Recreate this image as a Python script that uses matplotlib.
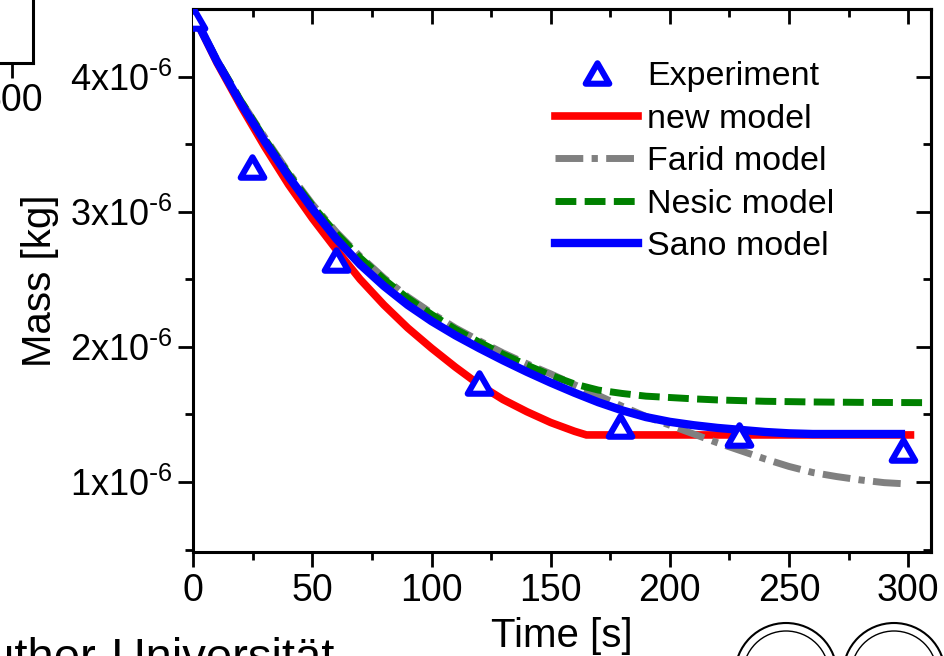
import numpy as np
import matplotlib
matplotlib.use('Agg')
import matplotlib.pyplot as plt
from matplotlib.path import Path
from matplotlib.markers import MarkerStyle
from matplotlib.patches import Circle

plt.rcParams['font.family'] = ['Liberation Sans', 'DejaVu Sans']
plt.rcParams['mathtext.default'] = 'regular'

# data (mass in 1e-6 kg)
exp_t = [0, 24.5, 60, 120, 179, 229, 298]
exp_m = [4.43, 3.33, 2.64, 1.73, 1.415, 1.35, 1.235]

new_t = [0, 10, 20, 30, 40, 50, 60, 70, 80, 90, 100, 110, 120, 130, 140, 150, 160, 165, 301]
new_m = [4.46, 4.10, 3.78, 3.48, 3.20, 2.95, 2.72, 2.50, 2.31, 2.14, 1.99, 1.85, 1.72, 1.61, 1.52,
         1.44, 1.375, 1.348, 1.348]

farid_t = [0, 10, 20, 30, 40, 50, 60, 70, 80, 90, 100, 110, 120, 130, 140, 150, 160, 170, 180, 190,
           200, 210, 220, 230, 240, 250, 260, 270, 280, 290, 300]
farid_m = [4.46, 4.12, 3.82, 3.55, 3.29, 3.055, 2.85, 2.67, 2.51, 2.37, 2.25, 2.14, 2.045, 1.955, 1.875,
           1.80, 1.72, 1.64, 1.56, 1.485, 1.42, 1.355, 1.29, 1.23, 1.17, 1.115, 1.07, 1.04, 1.015, 0.995, 0.985]

nesic_t = [0, 10, 20, 30, 40, 50, 60, 70, 80, 90, 100, 110, 120, 130, 140, 150, 160, 170, 180, 190,
           200, 210, 220, 240, 260, 280, 307]
nesic_m = [4.46, 4.12, 3.82, 3.54, 3.28, 3.045, 2.84, 2.66, 2.50, 2.36, 2.24, 2.13, 2.035, 1.945, 1.865,
           1.79, 1.725, 1.68, 1.655, 1.635, 1.625, 1.615, 1.607, 1.597, 1.592, 1.589, 1.587]

sano_t = [0, 10, 20, 30, 40, 50, 60, 70, 80, 90, 100, 110, 120, 130, 140, 150, 160, 170, 180, 190,
          200, 210, 220, 230, 240, 250, 260, 297]
sano_m = [4.46, 4.11, 3.80, 3.52, 3.26, 3.02, 2.80, 2.61, 2.45, 2.31, 2.19, 2.085, 1.99, 1.90, 1.815,
          1.735, 1.66, 1.59, 1.53, 1.48, 1.445, 1.42, 1.40, 1.385, 1.37, 1.36, 1.355, 1.355]

ytick_vals = [1, 2, 3, 4]
ytick_labels = [r'1x10$^{\text{-}6}$', r'2x10$^{\text{-}6}$', r'3x10$^{\text{-}6}$', r'4x10$^{\text{-}6}$']
xtick_vals = [0, 50, 100, 150, 200, 250, 300]

W, H = 945, 656
fig = plt.figure(figsize=(W / 100, H / 100), dpi=100)

# corner of the neighbouring chart on the slide
ax2 = fig.add_axes([-0.3, 1 - 63.3 / H, 0.3 + 33.3 / W, 0.3])
ax2.set_xlim(0, 536.6)
ax2.set_xticks([500])
ax2.set_yticks([])
ax2.tick_params(axis='x', labelsize=27, length=11, width=2, direction='out')
for s in ['bottom', 'right']:
    ax2.spines[s].set_linewidth(2.2)

ax = fig.add_axes([193.3 / W, 1 - 551.7 / H, (930.7 - 193.3) / W, (551.7 - 9) / H])

s = 1e-6
ax.plot(np.array(new_t), np.array(new_m) * s, color='#ff0000', lw=5.5, label='new model',
        solid_joinstyle='miter', zorder=2)
ax.plot(np.array(farid_t), np.array(farid_m) * s, color='#808080', lw=5, label='Farid model',
        dashes=(4, 1.2, 0.9, 1.2), zorder=3)
ax.plot(np.array(nesic_t), np.array(nesic_m) * s, color='#008000', lw=5, label='Nesic model',
        dashes=(3, 1.2), zorder=4)
ax.plot(np.array(sano_t), np.array(sano_m) * s, color='#0000ff', lw=6, label='Sano model', zorder=5)

tri = Path([(-1, -0.866), (1, -0.866), (0, 0.866), (-1, -0.866)], closed=True)
ax.plot(np.array(exp_t), np.array(exp_m) * s, ls='none',
        marker=MarkerStyle(tri, joinstyle='miter'), ms=17, mew=4.4,
        mec='#0000ff', mfc='white', label='Experiment', zorder=6)

ax.set_xlim(0, 309.5)
ax.set_ylim(0.484e-6, 4.5e-6)
ax.set_xticks(xtick_vals)
ax.set_xticks(np.arange(25, 310, 50), minor=True)
ax.set_yticks(np.array(ytick_vals) * s)
ax.set_yticklabels(ytick_labels)
ax.set_yticks(np.array([0.5, 1.5, 2.5, 3.5]) * s, minor=True)

ax.tick_params(which='major', length=11, width=2, direction='out', labelsize=27, pad=4)
ax.tick_params(axis='y', which='major', labelsize=26)
ax.tick_params(which='minor', length=6, width=2, direction='out')
for sp in ax.spines.values():
    sp.set_linewidth(2.2)

top = ax.secondary_xaxis('top')
top.set_xticks(xtick_vals)
top.set_xticks(np.arange(25, 310, 50), minor=True)
top.tick_params(which='major', direction='in', length=11, width=2, labeltop=False)
top.tick_params(which='minor', direction='in', length=6, width=2)
top.spines['top'].set_linewidth(2.2)

right = ax.secondary_yaxis('right')
right.set_yticks(np.array(ytick_vals) * s)
right.set_yticks(np.array([0.5, 1.5, 2.5, 3.5]) * s, minor=True)
right.tick_params(which='major', direction='in', length=11, width=2, labelright=False)
right.tick_params(which='minor', direction='in', length=6, width=2)
right.spines['right'].set_linewidth(2.2)

ax.set_xlabel('Time [s]', fontsize=29, labelpad=6)
ax.set_ylabel('Mass [kg]', fontsize=29, labelpad=8)

handles, labels = ax.get_legend_handles_labels()
order = [4, 0, 1, 2, 3]
ax.legend([handles[i] for i in order], [labels[i] for i in order],
          loc='upper left', bbox_to_anchor=(555 / W, 1 - 61 / H), bbox_transform=fig.transFigure,
          frameon=False, fontsize=24.5, handlelength=2.45, handletextpad=0.25,
          labelspacing=0.34, borderpad=0, borderaxespad=0)

# slide footer
fig.text(335 / W, 1 - 637 / H, 'Martin-Luther-Universität', fontsize=34, ha='right', va='top')
for cx in (786, 894):
    fig.patches.append(Circle((cx / 100, (H - 674) / 100), 0.51, transform=fig.dpi_scale_trans,
                              fill=False, lw=1.5, ec='black'))
    fig.patches.append(Circle((cx / 100, (H - 674) / 100), 0.43, transform=fig.dpi_scale_trans,
                              fill=False, lw=1.0, ec='black'))

fig.savefig('out.png', dpi=100)
